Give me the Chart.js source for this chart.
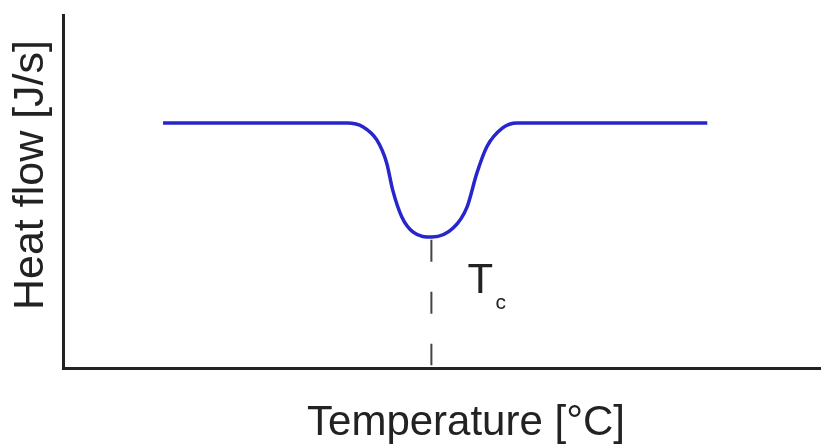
<!DOCTYPE html>
<html>
<head>
<meta charset="utf-8">
<script src="https://cdn.jsdelivr.net/npm/chart.js@4/dist/chart.umd.min.js"></script>
<style>
  html, body { margin: 0; padding: 0; background: #fff; }
  #wrap { width: 821px; height: 448px; }
</style>
</head>
<body>
<div id="wrap"><canvas id="dsc" width="821" height="448"></canvas></div>
<script>
// DSC curve (arbitrary units, axes go 0..100)
var curveX = [13.2, 37.5, 39.6, 41.4, 42.7, 43.5, 44.7, 46.2, 48.7, 51.5, 53.3, 54.6, 55.9, 58.0, 59.9, 85.0];
var curveY = [69.4, 69.4, 68.3, 64.6, 58.1, 50.4, 42.8, 38.5, 37.1, 39.7, 45.6, 55.2, 62.6, 68.0, 69.4, 69.4];

// position of the crystallisation peak (dashed marker)
var tcX = 48.6;
var tcMarkY = [36.3, 0.8];

var xTitle = 'Temperature [°C]';
var yTitle = 'Heat flow [J/s]';
var tcLabel = 'T';
var tcSub = 'c';

var curvePoints = [];
for (var i = 0; i < curveX.length; i++) {
    curvePoints.push({ x: curveX[i], y: curveY[i] });
}
var markPoints = [];
for (var j = 0; j < tcMarkY.length; j++) {
    markPoints.push({ x: tcX, y: tcMarkY[j] });
}

// draws the axis titles and the Tc label as canvas text
var textPlugin = {
    id: 'textLabels',
    afterDraw: function (chart) {
        var ctx = chart.ctx;
        var xs = chart.scales.x;
        ctx.save();
        ctx.fillStyle = '#222';
        ctx.textBaseline = 'alphabetic';

        ctx.font = '42px "Liberation Sans", Arial, sans-serif';
        ctx.textAlign = 'center';
        ctx.fillText(xTitle, 466, 435);

        ctx.save();
        ctx.font = '43px "Liberation Sans", Arial, sans-serif';
        ctx.translate(43, 175);
        ctx.rotate(-Math.PI / 2);
        ctx.fillText(yTitle, 0, 0);
        ctx.restore();

        var px = xs.getPixelForValue(tcX);
        ctx.textAlign = 'left';
        ctx.font = '42px "Liberation Sans", Arial, sans-serif';
        ctx.fillText(tcLabel, px + 36, 293);
        ctx.font = '21px "Liberation Sans", Arial, sans-serif';
        ctx.fillText(tcSub, px + 64, 309);
        ctx.restore();
    }
};

var ctx = document.getElementById('dsc').getContext('2d');
var myChart = new Chart(ctx, {
    type: 'line',
    data: {
        datasets: [{
            data: curvePoints,
            borderColor: '#2626cc',
            borderWidth: 3.5,
            pointRadius: 0,
            cubicInterpolationMode: 'monotone',
            fill: false
        }, {
            data: markPoints,
            borderColor: '#444',
            borderWidth: 2,
            borderDash: [22, 30],
            pointRadius: 0,
            fill: false
        }]
    },
    options: {
        responsive: false,
        animation: false,
        layout: { padding: { top: 15, right: 0, left: 0, bottom: 0 } },
        plugins: {
            legend: { display: false },
            tooltip: { enabled: false }
        },
        scales: {
            x: {
                type: 'linear',
                min: 0,
                max: 100,
                grid: { display: false },
                ticks: { display: false },
                border: { display: true, color: '#222', width: 3 },
                afterFit: function (scale) { scale.height = 80; }
            },
            y: {
                min: 0,
                max: 100,
                grid: { display: false },
                ticks: { display: false },
                border: { display: true, color: '#222', width: 3 },
                afterFit: function (scale) { scale.width = 63; }
            }
        }
    },
    plugins: [textPlugin]
});
</script>
</body>
</html>
